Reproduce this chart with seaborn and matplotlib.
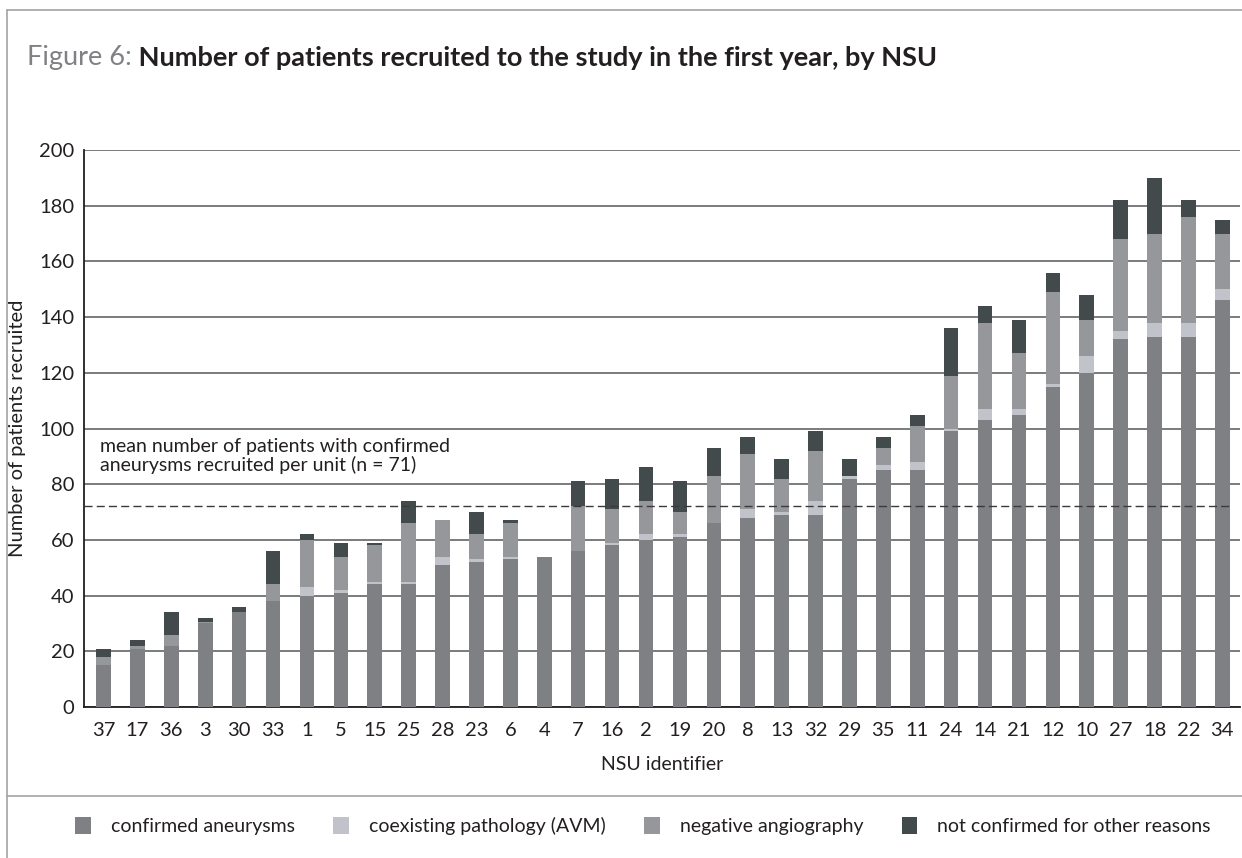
import numpy as np
import pandas as pd
import seaborn as sns
from matplotlib import pyplot as plt
from matplotlib.patches import Patch
from matplotlib.lines import Line2D

# NSU identifiers in plotted order
nsu_ids = ["37", "17", "36", "3", "30", "33", "1", "5", "15", "25", "28", "23", "6", "4",
           "7", "16", "2", "19", "20", "8", "13", "32", "29", "35", "11", "24", "14", "21",
           "12", "10", "27", "18", "22", "34"]

# counts per category
confirmed = [15, 21, 22, 30, 34, 38, 40, 41, 44, 44, 51, 52, 53, 54,
             56, 58, 60, 61, 66, 68, 69, 69, 82, 85, 85, 99, 103, 105,
             115, 120, 132, 133, 133, 146]
avm = [0, 0, 0, 0, 0, 0, 3, 1, 1, 1, 3, 1, 1, 0,
       0, 1, 2, 1, 0, 3, 1, 5, 1, 2, 3, 1, 4, 2,
       1, 6, 3, 5, 5, 4]
negative = [3, 1, 4, 0.5, 0, 6, 17, 12, 13, 21, 13, 9, 12, 0,
            16, 12, 12, 8, 17, 20, 12, 18, 0, 6, 13, 19, 31, 20,
            33, 13, 33, 32, 38, 20]
other = [3, 2, 8, 1.5, 2, 12, 2, 5, 1, 8, 0, 8, 1, 0,
         9, 11, 12, 11, 10, 6, 7, 7, 6, 4, 4, 17, 6, 12,
         7, 9, 14, 20, 6, 5]

mean_line = 72
mean_label = "mean number of patients with confirmed\naneurysms recruited per unit (n = 71)"

series_names = ["confirmed aneurysms", "coexisting pathology (AVM)",
                "negative angiography", "not confirmed for other reasons"]
series_colors = ["#7f8084", "#c1c3cb", "#96979b", "#434a4c"]

df = pd.DataFrame({"nsu": nsu_ids, "confirmed": confirmed, "avm": avm,
                   "negative": negative, "other": other})
df["top_avm"] = df["confirmed"] + df["avm"]
df["top_neg"] = df["top_avm"] + df["negative"]
df["top_other"] = df["top_neg"] + df["other"]

sns.set_style("white")
plt.rcParams["font.family"] = ["Lato", "DejaVu Sans"]
ink = "#231f20"
fs = 14

W, H = 1242, 858
fig = plt.figure(figsize=(W / 100, H / 100), dpi=100)
ax = fig.add_axes([84 / W, 1 - 707 / H, (1240 - 84) / W, (707 - 150) / H])

# stacked bars drawn as overlapping cumulative totals
layers = [("top_other", series_colors[3]), ("top_neg", series_colors[2]),
          ("top_avm", series_colors[1]), ("confirmed", series_colors[0])]
for col, c in layers:
    sns.barplot(data=df, x="nsu", y=col, order=nsu_ids, color=c, width=0.43,
                saturation=1, errorbar=None, linewidth=0, ax=ax, zorder=3)

ax.axhline(mean_line, xmin=0, xmax=0.991, color="#3a3a3a", lw=1.0,
           ls=(0, (5.8, 3)), zorder=5)
ax.text(-0.1, 90, mean_label, fontsize=fs, color=ink, ha="left", va="center",
        linespacing=1.05, zorder=6)

n = len(nsu_ids)
ax.set_xlim(-0.575, n - 0.48)
ax.set_ylim(0, 200)
ax.set_yticks(np.arange(0, 201, 20))
ax.set_axisbelow(True)
ax.yaxis.grid(True, color="#55575a", lw=1.1)
ax.xaxis.grid(False)

sns.despine(ax=ax)
for s in ["left", "bottom"]:
    ax.spines[s].set_color(ink)
    ax.spines[s].set_linewidth(1.3)

ax.set_xticks(np.arange(n))
ax.set_xticklabels(nsu_ids)
ax.set_xticks(np.arange(n - 1) + 0.5, minor=True)
ax.tick_params(axis="x", which="major", length=0, pad=11, labelsize=14.5, labelcolor=ink)
ax.tick_params(axis="x", which="minor", direction="out", length=5, width=1, color=ink)
ax.tick_params(axis="y", direction="out", length=5, width=1, color=ink, pad=2,
               labelsize=14.5, labelcolor=ink)

ax.set_xlabel("NSU identifier", fontsize=fs, color=ink, va="center")
ax.xaxis.set_label_coords(0.5, (707 - 764) / 557)
ax.set_ylabel("Number of patients recruited", fontsize=14.5, color=ink, va="center")
ax.yaxis.set_label_coords((18 - 84) / 1156, 0.5)

# title in two parts
t1 = fig.text(27 / W, 1 - 58 / H, "Figure 6:", fontsize=19.5, color="#808184",
              ha="left", va="center")
ax.annotate(" Number of patients recruited to the study in the first year, by NSU",
            xy=(1, 0.5), xycoords=t1, ha="left", va="center", fontsize=19.5,
            fontweight="bold", color=ink, annotation_clip=False)

# frame lines
frame_c = "#a3a3a3"
fig.add_artist(Line2D([7 / W, 1], [1 - 10 / H, 1 - 10 / H], color=frame_c, lw=1.2))
fig.add_artist(Line2D([7 / W, 7 / W], [0, 1 - 10 / H], color=frame_c, lw=1.2))
fig.add_artist(Line2D([7 / W, 1], [1 - 796 / H, 1 - 796 / H], color=frame_c, lw=1.2))

handles = [Patch(facecolor=c, edgecolor="none") for c in series_colors]
fig.legend(handles, series_names, loc="center", bbox_to_anchor=(643 / W, 1 - 826 / H),
           ncol=4, frameon=False, fontsize=fs, handlelength=0.82, handleheight=0.93,
           handletextpad=1.03, columnspacing=1.96, labelcolor=ink)

fig.savefig("out.png", dpi=100)
